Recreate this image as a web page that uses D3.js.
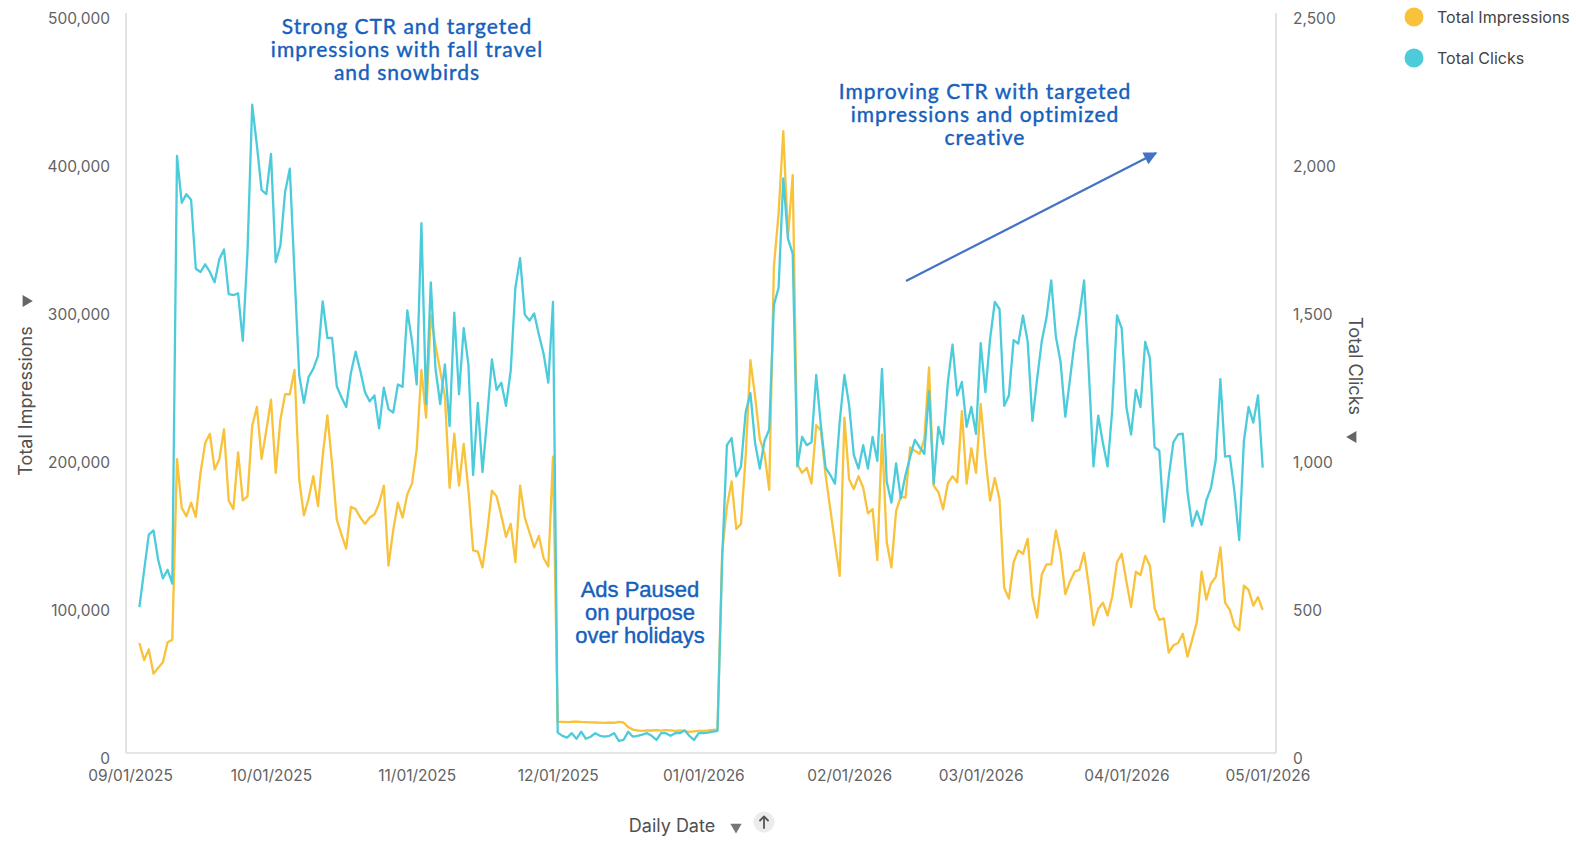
<!DOCTYPE html>
<html>
<head>
<meta charset="utf-8">
<script src="https://cdn.jsdelivr.net/npm/d3@7"></script>
<style>
  html, body { margin: 0; padding: 0; background: #ffffff; }
  svg { display: block; }
</style>
</head>
<body>
<svg id="chart" width="1576" height="841"></svg>
<script>
// ---- Data -------------------------------------------------------------
// Daily series start on 09/03/2025 and end on 04/30/2026.
const firstDay = "2025-09-03";
const lastDay = "2026-04-30";

const xTickLabels = ["09/01/2025", "10/01/2025", "11/01/2025", "12/01/2025",
  "01/01/2026", "02/01/2026", "03/01/2026", "04/01/2026", "05/01/2026"];
const impressionTicks = [0, 100000, 200000, 300000, 400000, 500000];
const clickTicks = [0, 500, 1000, 1500, 2000, 2500];
const seriesNames = ["Total Impressions", "Total Clicks"];

const impressionsSep = [74300, 62800, 70000, 53600, 57600, 61300, 74800, 76600, 198500, 165700,
  159900, 169100, 159600, 189300, 209400, 215700, 191600, 198500, 218600, 170600,
  164800, 203100, 170600, 173400, 220900, 233800, 198700, 218000];
const impressionsOct = [238700, 189300, 225200, 242400, 242400, 258800, 184900, 160500, 172000, 187000,
  166800, 200800, 228100, 195000, 157600, 147600, 138100, 166300, 164800, 159100,
  154800, 159100, 161100, 168600, 180600, 126600, 150400, 169100, 159100, 174900, 182000];
const impressionsNov = [205000, 258800, 226600, 295600, 275500, 258300, 241000, 179200, 215700, 180600,
  208800, 177800, 136900, 136100, 125400, 149000, 177200, 173400, 160500, 146100,
  154800, 128900, 180600, 159100, 149000, 138900, 146700, 131800, 126000, 200200];
const impressionsDec = [21000, 21000, 20800, 21100, 21200, 21000, 20900, 20700, 20600, 20500,
  20400, 20600, 20300, 21000, 20600, 17500, 15800, 15200, 15000, 15300,
  15200, 15400, 15100, 15500, 15300, 15000, 15200, 14800, 14300, 14600, 14900];
const impressionsJan = [15000, 15200, 15600, 16000, 136100, 166300, 183500, 151300, 154800, 200800,
  265400, 241000, 212300, 202200, 177800, 328700, 364600, 420100, 348800, 390500,
  195000, 189300, 192700, 182100, 221500, 218000, 187800, 164800, 141800, 119700, 226600];
const impressionsFeb = [184900, 178300, 187000, 179200, 161900, 164800, 130300, 215100, 142700, 125400,
  163400, 173400, 172600, 206500, 204200, 202200, 211700, 260600, 180600, 176300,
  164800, 182100, 187000, 182900, 230900, 182100, 205900, 189300];
const impressionsMar = [235800, 200000, 170600, 185800, 171400, 111600, 104400, 128900, 136900, 134600,
  144700, 105900, 91500, 120800, 127400, 127400, 150400, 135200, 107300, 115900,
  122500, 123700, 135200, 113100, 86300, 97300, 101600, 92900, 105900, 128900, 134600];
const impressionsApr = [115900, 98700, 122500, 120300, 133200, 126600, 97800, 90000, 90900, 67900,
  72800, 74300, 80600, 65100, 76600, 88600, 122500, 103600, 114500, 118800,
  138900, 101600, 96700, 85800, 82900, 113100, 110200, 99600, 105300, 96700];

const clicksSep = [493, 616, 738, 752, 652, 590, 619, 572, 2017, 1859,
  1888, 1869, 1636, 1625, 1651, 1625, 1590, 1668, 1701, 1550,
  1547, 1553, 1392, 1694, 2190, 2053, 1902, 1888];
const clicksOct = [2024, 1658, 1715, 1895, 1974, 1622, 1277, 1183, 1270, 1298,
  1342, 1526, 1402, 1402, 1238, 1202, 1169, 1284, 1356, 1291,
  1219, 1188, 1208, 1097, 1234, 1162, 1150, 1245, 1237, 1495, 1392];
const clicksNov = [1245, 1790, 1179, 1590, 1298, 1179, 1313, 1104, 1488, 1212,
  1435, 1313, 939, 1183, 949, 1133, 1330, 1227, 1251, 1173,
  1291, 1572, 1672, 1481, 1461, 1485, 1413, 1349, 1251, 1524];
const clicksDec = [69, 58, 52, 67, 48, 72, 48, 55, 67, 58,
  55, 58, 67, 41, 44, 72, 55, 58, 62, 67,
  58, 44, 67, 67, 58, 67, 67, 77, 58, 44, 67];
const clicksJan = [67, 69, 72, 75, 659, 1040, 1064, 935, 968, 1152,
  1216, 1047, 961, 1054, 1093, 1514, 1572, 1941, 1737, 1687,
  968, 1068, 1040, 1050, 1277, 1104, 964, 939, 910, 1119, 1277];
const clicksFeb = [1176, 1007, 961, 1040, 961, 1068, 987, 1298, 917, 846,
  978, 860, 939, 1001, 1058, 1033, 1011, 1222, 910, 1102,
  1044, 1251, 1380, 1208, 1254, 1102, 1169, 1078];
const clicksMar = [1385, 1219, 1399, 1524, 1500, 1173, 1208, 1395, 1383, 1478,
  1389, 1122, 1263, 1392, 1471, 1597, 1406, 1320, 1136, 1263,
  1392, 1478, 1597, 1291, 968, 1140, 1047, 968, 1162, 1478, 1435];
const clicksApr = [1169, 1076, 1227, 1169, 1389, 1334, 1033, 1021, 781, 932,
  1050, 1076, 1079, 882, 767, 817, 771, 853, 896, 989,
  1263, 1001, 1004, 882, 719, 1054, 1169, 1116, 1208, 964];

const impressions = [].concat(impressionsSep, impressionsOct, impressionsNov, impressionsDec,
  impressionsJan, impressionsFeb, impressionsMar, impressionsApr);
const clicks = [].concat(clicksSep, clicksOct, clicksNov, clicksDec,
  clicksJan, clicksFeb, clicksMar, clicksApr);

// ---- Layout -----------------------------------------------------------
const svg = d3.select("#chart");
const plot = { left: 126, right: 1276, top: 13, bottom: 753 };
const colors = { impressions: "#F8C23A", clicks: "#4CCBDB" };
const axisFont = "Inter, 'Noto Sans', 'DejaVu Sans', sans-serif";
const noteFont = "Lato, 'Noto Sans', sans-serif";
const noteColor = "#1560BD";

const parseDay = d3.utcParse("%Y-%m-%d");
const parseTick = d3.utcParse("%m/%d/%Y");
const days = d3.utcDay.range(parseDay(firstDay), d3.utcDay.offset(parseDay(lastDay), 1));

const tickDates = xTickLabels.map(parseTick);
const x = d3.scaleUtc()
  .domain([tickDates[0], tickDates[tickDates.length - 1]])
  .range([130, 1267.4]);
const yImp = d3.scaleLinear().domain([0, 500000]).range([plot.bottom, plot.top]);
const yClk = d3.scaleLinear().domain([0, 2500]).range([plot.bottom, plot.top]);

// ---- Frame ------------------------------------------------------------
const frame = svg.append("g").attr("stroke", "#dcdcdc").attr("stroke-width", 1.6);
frame.append("line").attr("x1", plot.left).attr("x2", plot.left).attr("y1", plot.top).attr("y2", plot.bottom);
frame.append("line").attr("x1", plot.right).attr("x2", plot.right).attr("y1", plot.top).attr("y2", plot.bottom);
frame.append("line").attr("x1", plot.left).attr("x2", plot.right).attr("y1", plot.bottom).attr("y2", plot.bottom);

// ---- Axes -------------------------------------------------------------
const fmt = d3.format(",");
const leftAxis = d3.axisLeft(yImp).tickValues(impressionTicks).tickFormat(fmt).tickSize(0).tickPadding(16);
const rightAxis = d3.axisRight(yClk).tickValues(clickTicks).tickFormat(fmt).tickSize(0).tickPadding(17);
const bottomAxis = d3.axisBottom(x).tickValues(tickDates).tickFormat(d3.utcFormat("%m/%d/%Y")).tickSize(0).tickPadding(17);

function styleAxis(g) {
  g.select(".domain").remove();
  g.selectAll("text")
    .attr("fill", "#626262")
    .style("font-family", axisFont)
    .style("font-size", "15.5px");
}
svg.append("g").attr("transform", `translate(${plot.left},6)`).call(leftAxis).call(styleAxis);
svg.append("g").attr("transform", `translate(${plot.right},6)`).call(rightAxis).call(styleAxis);
svg.append("g").attr("transform", `translate(0,${plot.bottom})`).call(bottomAxis).call(styleAxis);

// Axis titles with sort indicators
const titleStyle = (sel) => sel.attr("fill", "#505050").style("font-family", axisFont).style("font-size", "18px");
svg.append("text").call(titleStyle)
  .attr("transform", "translate(25,401) rotate(-90)")
  .attr("text-anchor", "middle").attr("dominant-baseline", "central")
  .text("Total Impressions");
svg.append("path")
  .attr("d", d3.symbol(d3.symbolTriangle, 60)())
  .attr("transform", "translate(26,301) rotate(90)")
  .attr("fill", "#666");

svg.append("text").call(titleStyle)
  .attr("transform", "translate(1355,366) rotate(90)")
  .attr("text-anchor", "middle").attr("dominant-baseline", "central")
  .text("Total Clicks");
svg.append("path")
  .attr("d", d3.symbol(d3.symbolTriangle, 60)())
  .attr("transform", "translate(1353,437) rotate(-90)")
  .attr("fill", "#666");

svg.append("text").call(titleStyle)
  .attr("x", 672).attr("y", 825)
  .attr("text-anchor", "middle").attr("dominant-baseline", "central")
  .text("Daily Date");
svg.append("path")
  .attr("d", d3.symbol(d3.symbolTriangle, 55)())
  .attr("transform", "translate(736,827) rotate(180)")
  .attr("fill", "#777");
svg.append("circle").attr("cx", 764).attr("cy", 822).attr("r", 10.5).attr("fill", "#ececec");
svg.append("path")
  .attr("d", "M764,816.5 L764,828 M760,820.5 L764,816.5 L768,820.5")
  .attr("stroke", "#555").attr("stroke-width", 1.8).attr("fill", "none")
  .attr("stroke-linecap", "round").attr("stroke-linejoin", "round");

// ---- Lines ------------------------------------------------------------
const impLine = d3.line().x((d, i) => x(days[i])).y(d => yImp(d));
const clkLine = d3.line().x((d, i) => x(days[i])).y(d => yClk(d));

svg.append("path").datum(impressions)
  .attr("d", impLine).attr("fill", "none")
  .attr("stroke", colors.impressions).attr("stroke-width", 2.3)
  .attr("stroke-linejoin", "round");
svg.append("path").datum(clicks)
  .attr("d", clkLine).attr("fill", "none")
  .attr("stroke", colors.clicks).attr("stroke-width", 2.3)
  .attr("stroke-linejoin", "round");

// ---- Legend -----------------------------------------------------------
const legend = svg.append("g");
seriesNames.forEach((name, i) => {
  const cy = 17 + i * 41;
  legend.append("circle").attr("cx", 1414).attr("cy", cy).attr("r", 9.5)
    .attr("fill", i === 0 ? colors.impressions : colors.clicks);
  legend.append("text").attr("x", 1437).attr("y", cy)
    .attr("dominant-baseline", "central")
    .attr("fill", "#444").style("font-family", axisFont).style("font-size", "16px")
    .text(name);
});

// ---- Annotations --------------------------------------------------------
function note(lines, cx, firstY, step, font, size, spacing) {
  const t = svg.append("text")
    .attr("text-anchor", "middle")
    .attr("fill", noteColor)
    .attr("stroke", noteColor)
    .attr("stroke-width", 0.4)
    .style("font-family", font)
    .style("font-size", size + "px")
    .style("letter-spacing", spacing + "px");
  lines.forEach((s, i) => {
    t.append("tspan").attr("x", cx).attr("y", firstY + i * step)
      .attr("dominant-baseline", "central").text(s);
  });
}
note(["Strong CTR and targeted", "impressions with fall travel", "and snowbirds"],
  407, 25, 23, noteFont, 21, 1);
note(["Improving CTR with targeted", "impressions and optimized", "creative"],
  985, 90, 23, noteFont, 21, 1);
note(["Ads Paused", "on purpose", "over holidays"],
  640, 589, 23, "'Liberation Sans', Arial, sans-serif", 22, 0);

// Trend arrow
svg.append("defs").append("marker")
  .attr("id", "arrowHead")
  .attr("viewBox", "0 0 10 10")
  .attr("refX", 9).attr("refY", 5)
  .attr("markerWidth", 7).attr("markerHeight", 6)
  .attr("markerUnits", "strokeWidth")
  .attr("orient", "auto")
  .append("path").attr("d", "M0,0 L10,5 L0,10 z").attr("fill", "#4472C4");
svg.append("line")
  .attr("x1", 906).attr("y1", 281).attr("x2", 1156).attr("y2", 153)
  .attr("stroke", "#4472C4").attr("stroke-width", 2.2)
  .attr("marker-end", "url(#arrowHead)");
</script>
</body>
</html>
